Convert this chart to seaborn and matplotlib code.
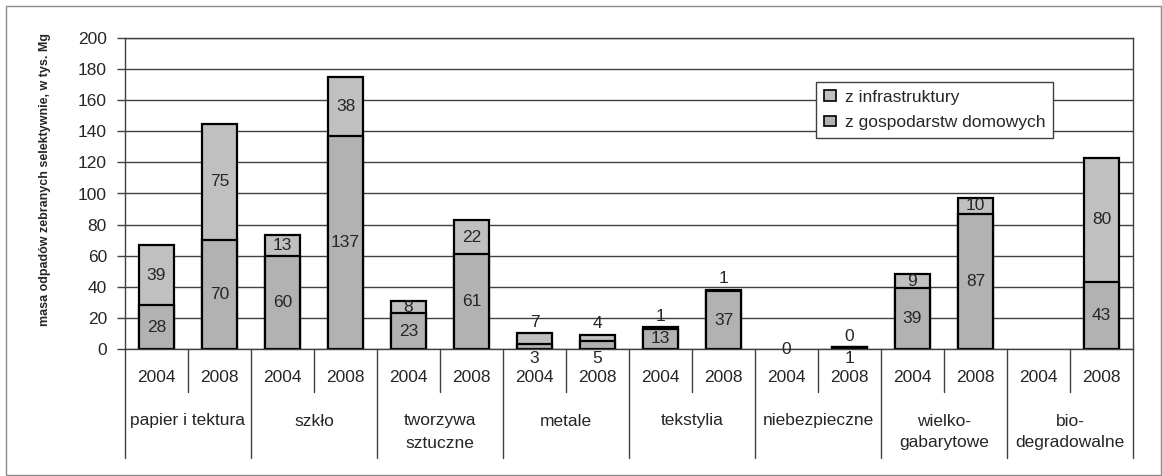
import numpy as np
import pandas as pd
import matplotlib
matplotlib.use("Agg")
import matplotlib.pyplot as plt
from matplotlib.patches import Patch, Rectangle
import seaborn as sns

# --- data -------------------------------------------------------------
categories = ["papier i tektura", "szkło", "tworzywa\nsztuczne", "metale",
              "tekstylia", "niebezpieczne", "wielko-\ngabarytowe",
              "bio-\ndegradowalne"]
years = ["2004", "2008"]
# thousand Mg, two years per category (2004, 2008)
households = [28, 70, 60, 137, 23, 61, 3, 5, 13, 37, None, 1, 39, 87, None, 43]
infrastructure = [39, 75, 13, 38, 8, 22, 7, 4, 1, 1, 0, 0, 9, 10, None, 80]
y_ticks = [0, 20, 40, 60, 80, 100, 120, 140, 160, 180, 200]
series_names = ["z infrastruktury", "z gospodarstw domowych"]
y_title = "masa odpadów zebranych selektywnie, w tys. Mg"

# --- styling ----------------------------------------------------------
sns.set_style("white")
plt.rcParams["font.family"] = ["Liberation Sans", "DejaVu Sans"]
FS = 12.5
c_infra = "#c0c0c0"
c_home = "#b2b2b2"
c_line = "#404040"

slots = [f"{c}|{y}" for c in categories for y in years]
home = pd.Series(households, dtype="float")
infra = pd.Series(infrastructure, dtype="float")
total = home.fillna(0) + infra.fillna(0)
total[home.isna() & infra.isna()] = np.nan
df = pd.DataFrame({
    "slot": slots,
    "home": home.where(home > 0),
    "total": total.where(total > 0),
})

fig = plt.figure(figsize=(11.62, 4.76), dpi=100)
W, H = 1162, 476
ax = fig.add_axes([125 / W, 127 / H, (1133 - 125) / W, (349 - 38) / H])

bar_w = 0.545
sns.barplot(data=df, x="slot", y="total", order=slots, color=c_infra,
            saturation=1, width=bar_w, edgecolor="black", linewidth=1.6,
            errorbar=None, ax=ax)
sns.barplot(data=df, x="slot", y="home", order=slots, color=c_home,
            saturation=1, width=bar_w, edgecolor="black", linewidth=1.6,
            errorbar=None, ax=ax)

ax.set_xlim(-0.5, len(slots) - 0.5)
ax.set_ylim(0, 200)
ax.set_yticks(y_ticks)
ax.set_yticklabels([str(t) for t in y_ticks], fontsize=FS)
ax.set_xlabel("")
ax.set_ylabel("")
ax.tick_params(axis="x", length=0, labelbottom=False)
ax.tick_params(axis="y", length=6, width=1, color=c_line, pad=7, left=True)
ax.yaxis.grid(True, color=c_line, linewidth=1)
ax.set_axisbelow(True)
for s in ax.spines.values():
    s.set_visible(True)
    s.set_color(c_line)
    s.set_linewidth(1)

# --- value labels -----------------------------------------------------
for i in range(len(slots)):
    h = households[i]
    f = infrastructure[i]
    tot = total[i]
    if np.isnan(tot):
        continue
    if tot == 0:
        ax.annotate("0", (i, 0), xytext=(0, 0), textcoords="offset points",
                    ha="center", va="center", fontsize=FS)
        continue
    if h is not None:
        if h >= 6:
            ax.annotate(str(h), (i, h / 2), ha="center", va="center", fontsize=FS)
        else:
            ax.annotate(str(h), (i, 0), xytext=(0, -7), textcoords="offset points",
                        ha="center", va="center", fontsize=FS)
    if f is not None:
        base = h if h is not None else 0
        if f >= 8:
            ax.annotate(str(f), (i, base + f / 2), ha="center", va="center", fontsize=FS)
        else:
            ax.annotate(str(f), (i, tot), xytext=(0, 8), textcoords="offset points",
                        ha="center", va="center", fontsize=FS)

# --- two-level category axis -----------------------------------------
xt = ax.get_xaxis_transform()
short_y, long_y = -43 / 311, -109 / 311
for k in range(len(slots) + 1):
    x = k - 0.5
    y_end = long_y if k % 2 == 0 else short_y
    ax.plot([x, x], [0, y_end], transform=xt, color=c_line, lw=1, clip_on=False)
for i, s in enumerate(slots):
    ax.text(i, -29 / 311, s.split("|")[1], transform=xt, ha="center",
            va="center", fontsize=FS)
for j, c in enumerate(categories):
    for n, line in enumerate(c.split("\n")):
        ax.text(2 * j + 0.5, (-72 - 22 * n) / 311, line, transform=xt,
                ha="center", va="center", fontsize=FS)

# --- y title ----------------------------------------------------------
fig.text(45 / W, 1 - 180 / H, y_title, rotation=90, ha="center", va="center",
         fontsize=9.0, fontweight="bold")

# --- legend -----------------------------------------------------------
handles = [Patch(facecolor=c_infra, edgecolor="black", linewidth=1.2, label=series_names[0]),
           Patch(facecolor=c_home, edgecolor="black", linewidth=1.2, label=series_names[1])]
leg = ax.legend(handles=handles, loc="upper left", bbox_to_anchor=(0.686, 0.859),
                frameon=True, fancybox=False, edgecolor=c_line, framealpha=1,
                fontsize=FS, handlelength=0.7, handleheight=0.55,
                handletextpad=0.5, labelspacing=0.6, borderpad=0.45,
                borderaxespad=0)
leg.get_frame().set_linewidth(1)

# --- outer frame ------------------------------------------------------
fig.patches.append(Rectangle((6 / W, 1 / H), (1161 - 6) / W, (475 - 6) / H,
                             transform=fig.transFigure, fill=False,
                             edgecolor="#8a8a8a", linewidth=1))

fig.savefig("out.png", dpi=100)
